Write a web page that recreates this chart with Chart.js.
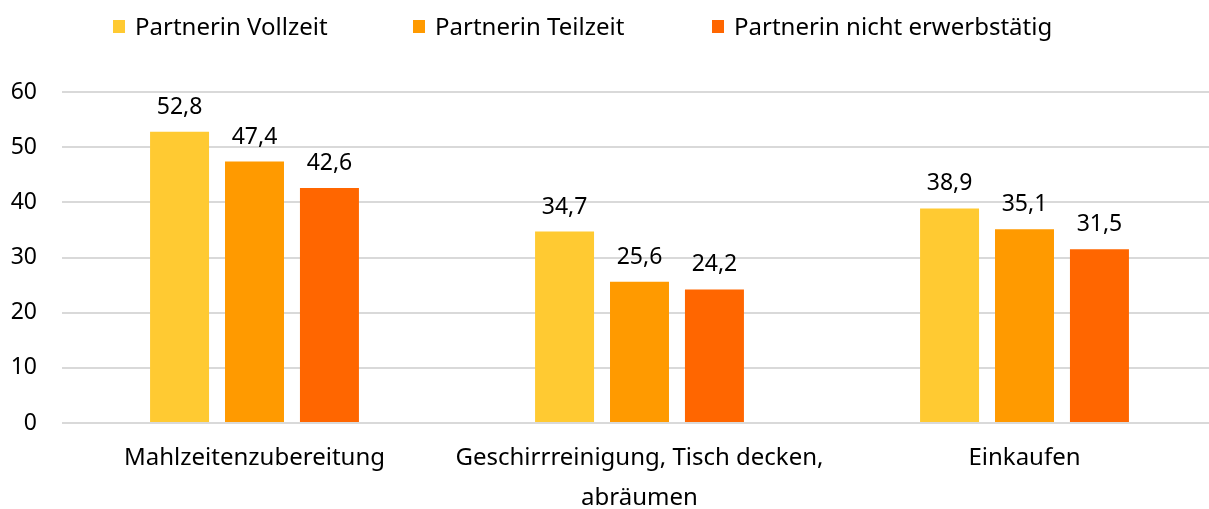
<!DOCTYPE html>
<html>
<head>
<meta charset="utf-8">
<script src="https://cdn.jsdelivr.net/npm/chart.js@4"></script>
<style>
  html, body { margin: 0; padding: 0; background: #fff; overflow: hidden; }
  #wrap { position: relative; width: 1209px; height: 509px; overflow: hidden; }
  #legend { position: absolute; top: 10px; left: 0; font-family: "Noto Sans"; font-size: 24px; line-height: 32px; color: #000; white-space: nowrap; }
  #legend span.item { position: absolute; top: 0; display: flex; align-items: center; }
  #legend i { display: inline-block; width: 12px; height: 13px; margin-right: 10px; }
  #chart { position: absolute; top: 0; left: 0; }
</style>
</head>
<body>
<div id="wrap">
  <canvas id="chart" width="1217" height="509"></canvas>
  <div id="legend"></div>
</div>
<script>
const categories = ["Mahlzeitenzubereitung", ["Geschirrreinigung, Tisch decken,", "abräumen"], "Einkaufen"];
const seriesNames = ["Partnerin Vollzeit", "Partnerin Teilzeit", "Partnerin nicht erwerbstätig"];
const vollzeit = [52.8, 34.7, 38.9];
const teilzeit = [47.4, 25.6, 35.1];
const nichtErwerbstaetig = [42.6, 24.2, 31.5];
const yTicks = [0, 10, 20, 30, 40, 50, 60];

const colors = ["#ffca32", "#ff9a00", "#ff6600"];
const legendX = [113, 413, 712];

Chart.defaults.font.family = "Noto Sans";
Chart.defaults.font.size = 23;
Chart.defaults.color = "#000";

// value labels above each bar, German decimal comma
const barValues = {
  id: 'barValues',
  afterDatasetsDraw(chart) {
    const ctx = chart.ctx;
    ctx.save();
    ctx.font = "23px 'Noto Sans'";
    ctx.fillStyle = "#000";
    ctx.textAlign = "center";
    ctx.textBaseline = "alphabetic";
    chart.data.datasets.forEach((ds, i) => {
      chart.getDatasetMeta(i).data.forEach((bar, j) => {
        ctx.fillText(ds.data[j].toFixed(1).replace(".", ","), bar.x, bar.y - 18);
      });
    });
    ctx.restore();
  }
};

const data = [vollzeit, teilzeit, nichtErwerbstaetig];

new Chart(document.getElementById("chart"), {
  type: 'bar',
  data: {
    labels: categories,
    datasets: seriesNames.map((name, i) => ({
      label: name,
      data: data[i],
      backgroundColor: colors[i],
      borderWidth: 0,
      barPercentage: 0.787,
      categoryPercentage: 0.584
    }))
  },
  options: {
    responsive: false,
    animation: false,
    layout: { padding: { top: 92, left: 0, right: 0, bottom: 0 } },
    scales: {
      x: {
        grid: { display: false },
        border: { display: false },
        ticks: {
          padding: 7,
          font: { size: 24, lineHeight: 1.68 }
        },
        afterFit: scale => { scale.height = 86; }
      },
      y: {
        min: 0,
        max: 60,
        afterBuildTicks: scale => { scale.ticks = yTicks.map(v => ({ value: v })); },
        grid: { color: "#d9d9d9", lineWidth: 2, drawTicks: false },
        border: { display: false },
        ticks: { padding: 25, font: { size: 23 } },
        afterFit: scale => { scale.width = 62; }
      }
    },
    plugins: {
      legend: { display: false },
      tooltip: { enabled: false }
    }
  },
  plugins: [barValues]
});

// legend row
const legend = document.getElementById("legend");
seriesNames.forEach((name, i) => {
  const item = document.createElement("span");
  item.className = "item";
  item.style.left = legendX[i] + "px";
  const box = document.createElement("i");
  box.style.background = colors[i];
  item.appendChild(box);
  item.appendChild(document.createTextNode(name));
  legend.appendChild(item);
});
</script>
</body>
</html>
